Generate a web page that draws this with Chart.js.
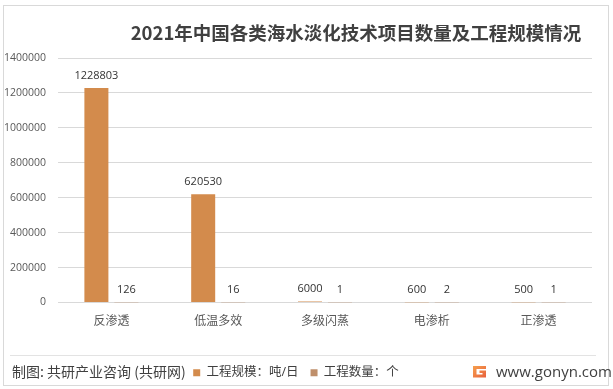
<!DOCTYPE html>
<html>
<head>
<meta charset="utf-8">
<script src="https://cdn.jsdelivr.net/npm/chart.js@4"></script>
<style>
  body { margin: 0; background: #fff; }
  #wrap { position: relative; width: 613px; height: 389px; overflow: hidden; background: #fff;
          font-family: "Open Sans", "Noto Sans CJK SC", sans-serif; }
  #frame { position: absolute; left: 3px; top: 5px; width: 606px; height: 381px; box-sizing: border-box;
           border: 1px solid #d9d9d9; }
  #title { position: absolute; left: 356px; top: 20px; transform: translateX(-50%); white-space: nowrap;
           font: bold 18.5px "Noto Sans CJK SC", sans-serif; color: #404040; line-height: 24px; }
  #sep { position: absolute; left: 10px; top: 355px; width: 586px; height: 1px; background: #e3e3e3; }
  #source { position: absolute; left: 12px; top: 362px; font: 14px "Noto Sans CJK SC", sans-serif;
            color: #404040; line-height: 18px; white-space: nowrap; }
  #site { position: absolute; left: 496px; top: 362px; font: 15px "Open Sans", sans-serif;
          color: #404040; line-height: 18px; white-space: nowrap; }
  #logo { position: absolute; left: 472px; top: 364px; width: 15px; height: 15px; }
  canvas { position: absolute; left: 0; top: 0; }
</style>
</head>
<body>
<div id="wrap">
  <canvas id="c" width="613" height="389"></canvas>
  <div id="frame"></div>
  <div id="title">2021年中国各类海水淡化技术项目数量及工程规模情况</div>
  <div id="sep"></div>
  <div id="source">制图: 共研产业咨询 (共研网)</div>
  <svg id="logo" viewBox="0 0 15 15">
    <defs><linearGradient id="g" x1="0" y1="0" x2="1" y2="1">
      <stop offset="0" stop-color="#f6a04d"/><stop offset="1" stop-color="#e8603c"/></linearGradient></defs>
    <path d="M1 2 H14 V5 H4.5 V10.5 H10.5 V9 H7.5 V6.5 H14 V13.5 H1 Z" fill="url(#g)"/>
  </svg>
  <div id="site">www.gonyn.com</div>
</div>
<script>
const categories = ['反渗透', '低温多效', '多级闪蒸', '电渗析', '正渗透'];
const scaleValues = [1228803, 620530, 6000, 600, 500];
const countValues = [126, 16, 1, 2, 1];
const seriesNames = ['工程规模：吨/日', '工程数量：个'];
const yTicks = [0, 200000, 400000, 600000, 800000, 1000000, 1200000, 1400000];

const FONT = '"Open Sans", "Noto Sans CJK SC", sans-serif';

const valueLabels = {
  id: 'valueLabels',
  afterDatasetsDraw(chart) {
    const ctx = chart.ctx;
    ctx.save();
    ctx.font = '11px ' + FONT;
    ctx.fillStyle = '#333333';
    ctx.textAlign = 'center';
    ctx.textBaseline = 'bottom';
    chart.data.datasets.forEach((ds, i) => {
      const meta = chart.getDatasetMeta(i);
      meta.data.forEach((el, j) => {
        ctx.fillText(String(ds.data[j]), el.x, el.y - 7);
      });
    });
    ctx.restore();
  }
};

new Chart(document.getElementById('c'), {
  type: 'bar',
  data: {
    labels: categories,
    datasets: [
      { label: seriesNames[0], data: scaleValues, backgroundColor: '#D38B4C',
        categoryPercentage: 0.562, barPercentage: 0.8 },
      { label: seriesNames[1], data: countValues, backgroundColor: '#BF8F6B',
        categoryPercentage: 0.562, barPercentage: 0.8 }
    ]
  },
  options: {
    responsive: false,
    devicePixelRatio: 1,
    animation: false,
    layout: { padding: { left: 0, right: 21, top: 58, bottom: 0 } },
    plugins: {
      title: { display: false },
      tooltip: { enabled: false },
      legend: {
        position: 'bottom',
        labels: { boxWidth: 7, boxHeight: 7, padding: 12, color: '#404040',
                  font: { size: 12.5, family: FONT } }
      }
    },
    scales: {
      x: {
        grid: { display: false },
        border: { display: false },
        ticks: { color: '#595959', font: { size: 12, family: FONT }, padding: 4, maxRotation: 0 },
        afterFit: s => { s.height = 52; }
      },
      y: {
        min: 0, max: 1400000,
        afterBuildTicks: s => { s.ticks = yTicks.map(v => ({ value: v })); },
        ticks: { color: '#595959', font: { size: 10.5, family: FONT }, padding: 12,
                 callback: v => String(v) },
        grid: { color: '#d9d9d9', drawTicks: false },
        border: { display: false },
        afterFit: s => { s.width = 58; }
      }
    }
  },
  plugins: [valueLabels]
});
</script>
</body>
</html>
